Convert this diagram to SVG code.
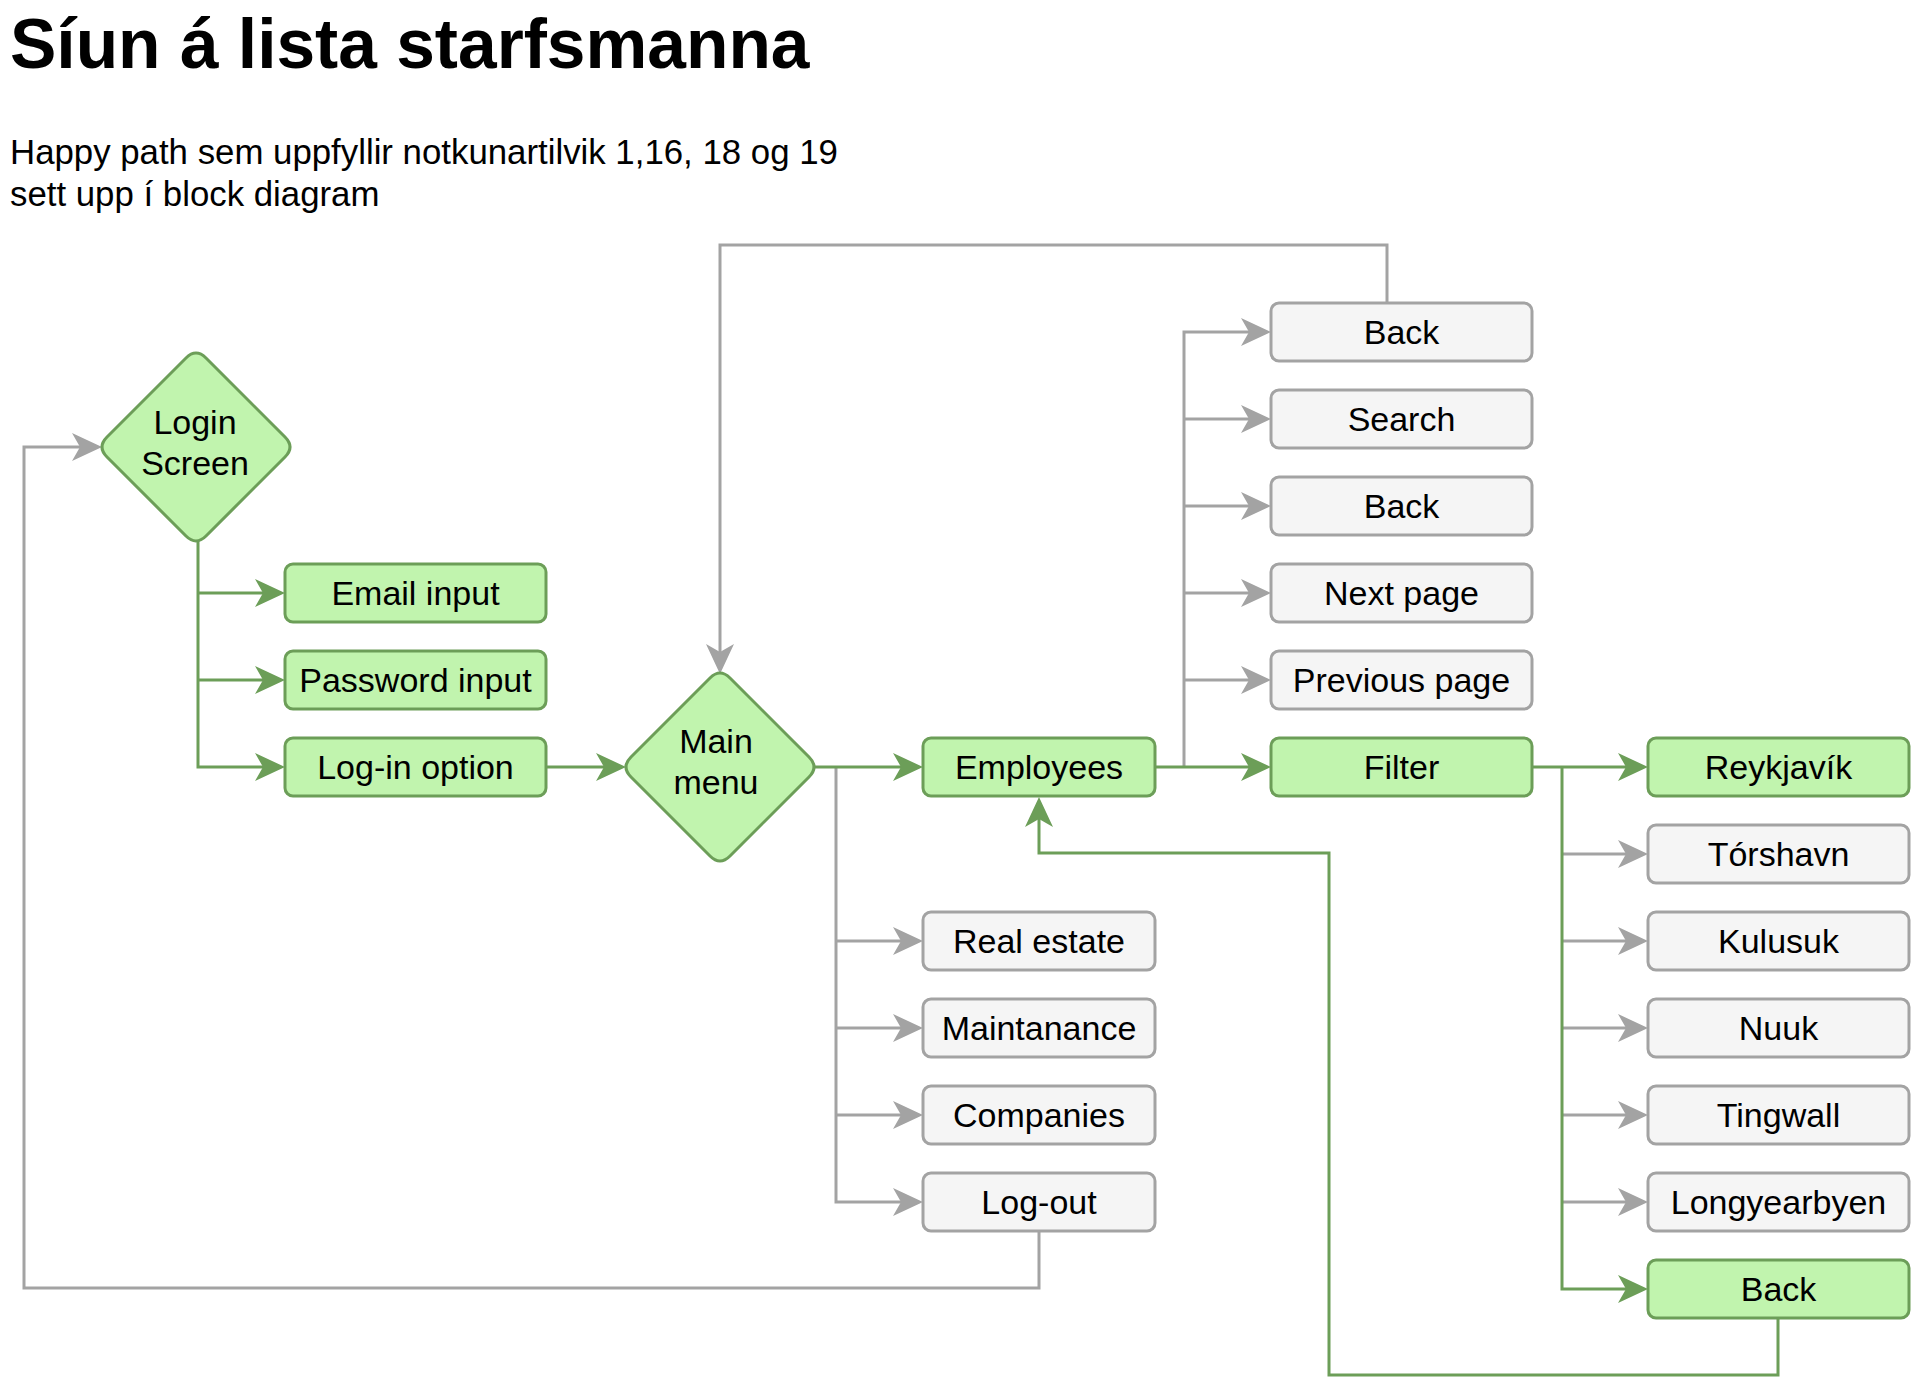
<svg xmlns="http://www.w3.org/2000/svg" width="1920" height="1388" viewBox="0 0 1920 1388">
<style>
text{font-family:"Liberation Sans",Arial,Helvetica,sans-serif;fill:#000}
.title{font-size:69.5px;font-weight:bold}
.sub{font-size:34.8px}
.lbl{font-size:34px;text-anchor:middle}
.g{fill:#c1f4ae;stroke:#6c9e58;stroke-width:3}
.n{fill:#f5f5f5;stroke:#a3a3a3;stroke-width:3}
.cg{fill:none;stroke:#6c9e58;stroke-width:3}
.cn{fill:none;stroke:#a3a3a3;stroke-width:3}
</style>
<defs>
<marker id="ag" markerUnits="userSpaceOnUse" viewBox="-10 -15 32 30" markerWidth="32" markerHeight="30" refX="0" refY="0" orient="auto">
<path d="M21,0 L-9,-14 L-1,0 L-9,14 Z" fill="#6c9e58"/>
</marker>
<marker id="an" markerUnits="userSpaceOnUse" viewBox="-10 -15 32 30" markerWidth="32" markerHeight="30" refX="0" refY="0" orient="auto">
<path d="M21,0 L-9,-14 L-1,0 L-9,14 Z" fill="#a3a3a3"/>
</marker>
</defs>
<rect width="1920" height="1388" fill="#ffffff"/>
<text class="title" x="10" y="68">Síun á lista starfsmanna</text>
<text class="sub" x="10" y="164">Happy path sem uppfyllir notkunartilvik 1,16, 18 og 19</text>
<text class="sub" x="10" y="206">sett upp í block diagram</text>

<g id="connectors">
<g class="cn" marker-end="url(#an)">
<path d="M836,767 V1202 H902"/>
<path d="M836,941 H902"/>
<path d="M836,1028 H902"/>
<path d="M836,1115 H902"/>
<path d="M1184,767 V332 H1250"/>
<path d="M1184,419 H1250"/>
<path d="M1184,506 H1250"/>
<path d="M1184,593 H1250"/>
<path d="M1184,680 H1250"/>
<path d="M1387,303 V245 H720 V653"/>
<path d="M1039,1231 V1288 H24 V447 H81"/>
<path d="M1562,854 H1627"/>
<path d="M1562,941 H1627"/>
<path d="M1562,1028 H1627"/>
<path d="M1562,1115 H1627"/>
<path d="M1562,1202 H1627"/>
</g>
<g class="cg" marker-end="url(#ag)">
<path d="M198,541 V767 H264"/>
<path d="M198,593 H264"/>
<path d="M198,680 H264"/>
<path d="M546,767 H605"/>
<path d="M814,767 H902"/>
<path d="M1155,767 H1250"/>
<path d="M1532,767 H1627"/>
<path d="M1562,767 V1289 H1627"/>
<path d="M1778,1318 V1375 H1329 V853 H1039 V818"/>
</g>
</g>

<g id="login">
<path class="g" d="M186,358 Q196,348 206,358 L285,437 Q295,447 285,457 L206,536 Q196,546 186,536 L107,457 Q97,447 107,437 Z"/>
<text class="lbl" x="195" y="434">Login</text>
<text class="lbl" x="195" y="475">Screen</text>
</g>
<g id="email"><rect class="g" x="285" y="564" width="261" height="58" rx="8"/><text class="lbl" x="415.5" y="605">Email input</text></g>
<g id="password"><rect class="g" x="285" y="651" width="261" height="58" rx="8"/><text class="lbl" x="415.5" y="692">Password input</text></g>
<g id="loginopt"><rect class="g" x="285" y="738" width="261" height="58" rx="8"/><text class="lbl" x="415.5" y="779">Log-in option</text></g>

<g id="mainmenu">
<path class="g" d="M710,678 Q720,668 730,678 L809,757 Q819,767 809,777 L730,856 Q720,866 710,856 L631,777 Q621,767 631,757 Z"/>
<text class="lbl" x="716" y="753">Main</text>
<text class="lbl" x="716" y="794">menu</text>
</g>

<g id="employees"><rect class="g" x="923" y="738" width="232" height="58" rx="8"/><text class="lbl" x="1039" y="779">Employees</text></g>
<g id="realestate"><rect class="n" x="923" y="912" width="232" height="58" rx="8"/><text class="lbl" x="1039" y="953">Real estate</text></g>
<g id="maintanance"><rect class="n" x="923" y="999" width="232" height="58" rx="8"/><text class="lbl" x="1039" y="1040">Maintanance</text></g>
<g id="companies"><rect class="n" x="923" y="1086" width="232" height="58" rx="8"/><text class="lbl" x="1039" y="1127">Companies</text></g>
<g id="logout"><rect class="n" x="923" y="1173" width="232" height="58" rx="8"/><text class="lbl" x="1039" y="1214">Log-out</text></g>

<g id="back1"><rect class="n" x="1271" y="303" width="261" height="58" rx="8"/><text class="lbl" x="1401.5" y="344">Back</text></g>
<g id="search"><rect class="n" x="1271" y="390" width="261" height="58" rx="8"/><text class="lbl" x="1401.5" y="431">Search</text></g>
<g id="back2"><rect class="n" x="1271" y="477" width="261" height="58" rx="8"/><text class="lbl" x="1401.5" y="518">Back</text></g>
<g id="nextpage"><rect class="n" x="1271" y="564" width="261" height="58" rx="8"/><text class="lbl" x="1401.5" y="605">Next page</text></g>
<g id="prevpage"><rect class="n" x="1271" y="651" width="261" height="58" rx="8"/><text class="lbl" x="1401.5" y="692">Previous page</text></g>
<g id="filter"><rect class="g" x="1271" y="738" width="261" height="58" rx="8"/><text class="lbl" x="1401.5" y="779">Filter</text></g>

<g id="reykjavik"><rect class="g" x="1648" y="738" width="261" height="58" rx="8"/><text class="lbl" x="1778.5" y="779">Reykjavík</text></g>
<g id="torshavn"><rect class="n" x="1648" y="825" width="261" height="58" rx="8"/><text class="lbl" x="1778.5" y="866">Tórshavn</text></g>
<g id="kulusuk"><rect class="n" x="1648" y="912" width="261" height="58" rx="8"/><text class="lbl" x="1778.5" y="953">Kulusuk</text></g>
<g id="nuuk"><rect class="n" x="1648" y="999" width="261" height="58" rx="8"/><text class="lbl" x="1778.5" y="1040">Nuuk</text></g>
<g id="tingwall"><rect class="n" x="1648" y="1086" width="261" height="58" rx="8"/><text class="lbl" x="1778.5" y="1127">Tingwall</text></g>
<g id="longyearbyen"><rect class="n" x="1648" y="1173" width="261" height="58" rx="8"/><text class="lbl" x="1778.5" y="1214">Longyearbyen</text></g>
<g id="back3"><rect class="g" x="1648" y="1260" width="261" height="58" rx="8"/><text class="lbl" x="1778.5" y="1301">Back</text></g>
</svg>
